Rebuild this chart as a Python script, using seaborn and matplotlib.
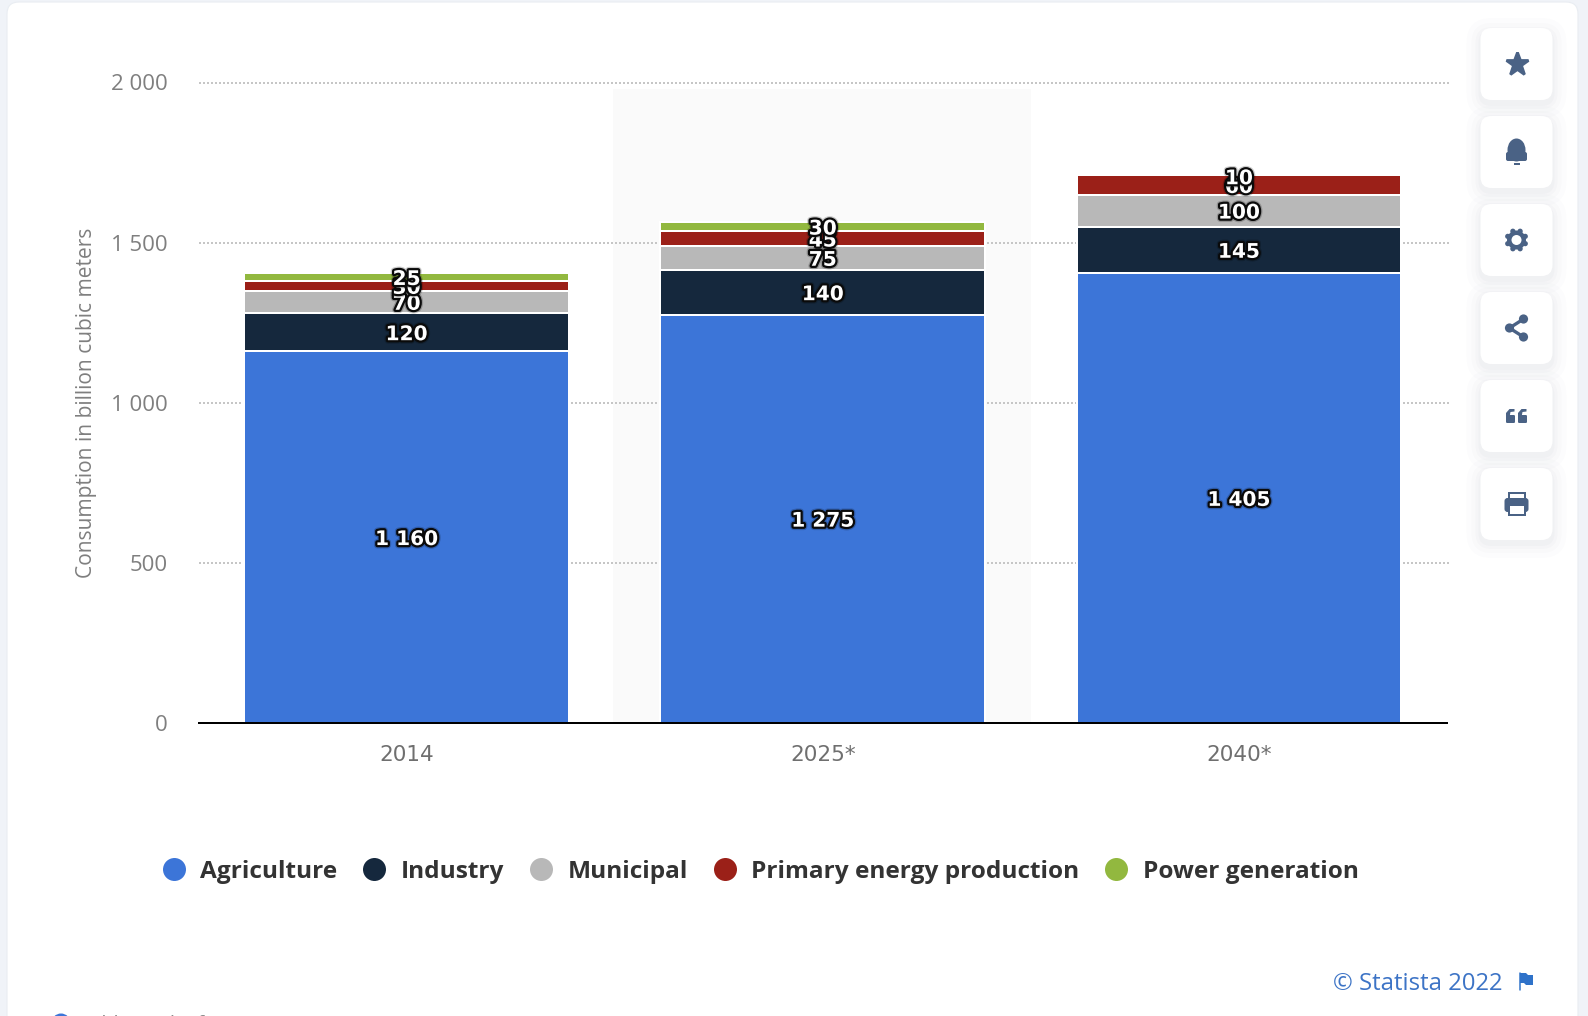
## Water consumption by sector, stacked bars in a Statista style card
import numpy as np
import matplotlib
matplotlib.use("Agg")
import matplotlib.pyplot as plt
import matplotlib.patheffects as pe
from matplotlib.lines import Line2D
from matplotlib.patches import FancyBboxPatch, Circle, Rectangle, Polygon, Ellipse
import seaborn as sns

## Data
years = ["2014", "2025*", "2040*"]
sectors = ["Agriculture", "Industry", "Municipal", "Primary energy production", "Power generation"]
agriculture = [1160, 1275, 1405]
industry = [120, 140, 145]
municipal = [70, 75, 100]
primary_energy = [30, 45, 60]
power_generation = [25, 30, 10]
sector_colors = ["#3c75d8", "#15283d", "#b8b8b8", "#9b2018", "#92b83f"]
y_ticks = [0, 500, 1000, 1500, 2000]
y_tick_labels = ["0", "500", "1 000", "1 500", "2 000"]

W, H = 1588, 1016
PX = 0.72  ## points per pixel at dpi 100
ICON = "#4a6285"

sns.set_theme(style="white")
plt.rcParams["font.family"] = ["Open Sans", "DejaVu Sans"]

fig = plt.figure(figsize=(W / 100, H / 100), dpi=100, facecolor="#f0f3f8")

## Overlay in pixel coordinates for the page furniture
ui = fig.add_axes([0, 0, 1, 1], zorder=0)
ui.set_xlim(0, W)
ui.set_ylim(H, 0)
ui.axis("off")
ui.add_patch(FancyBboxPatch((7, 2), 1571, 1100, boxstyle="round,pad=0,rounding_size=12",
                            fc="white", ec="#e9edf2", lw=0.8))

## Main axes
x0, x1, y_top, y_bot = 198.5, 1447, 82.5, 722.7
ax = fig.add_axes([x0 / W, 1 - y_bot / H, (x1 - x0) / W, (y_bot - y_top) / H], zorder=1)
ax.patch.set_alpha(0)

series = [agriculture, industry, municipal, primary_energy, power_generation]
bottom = np.zeros(len(years))
for vals, color in zip(series, sector_colors):
    sns.barplot(x=years, y=vals, bottom=bottom, color=color, saturation=1, width=0.78,
                edgecolor="white", linewidth=2 * PX, ax=ax, zorder=3)
    ## a very thin segment disappears behind its own white border
    for patch, v in zip(ax.patches[-len(years):], vals):
        if v <= 10:
            patch.set_visible(False)
    bottom = bottom + np.array(vals)

ax.set_xlim(-0.5, 2.5)
ax.set_ylim(0, 2000)
ax.axvspan(0.495, 1.5, ymax=0.99, color="#fafafa", lw=0, zorder=0)

ax.set_yticks(y_ticks)
ax.set_yticklabels(y_tick_labels)
for t in y_ticks[1:]:
    ax.axhline(t, xmax=1.002, color="#c6c6c6", lw=2 * PX, ls=(0, (1, 1)), zorder=1, clip_on=False)

for s in ["top", "right", "left"]:
    ax.spines[s].set_visible(False)
ax.spines["bottom"].set_color("black")
ax.spines["bottom"].set_linewidth(2 * PX)
ax.spines["bottom"].set_zorder(5)
ax.tick_params(axis="y", length=0, pad=31 * PX, labelsize=16, labelcolor="#7f7f7f")
ax.tick_params(axis="x", length=0, pad=22 * PX, labelsize=15.5, labelcolor="#6f6f6f")
for lab in ax.get_xticklabels():
    lab.set_fontfamily("DejaVu Sans")
ax.set_xlabel("")
ax.set_ylabel("Consumption in billion cubic meters", fontsize=15.1, color="#7f7f7f")
ax.yaxis.set_label_coords((97 - x0) / (x1 - x0), 0.5)

## Value labels, lower segments first so the upper ones sit on top
bottom = np.zeros(len(years))
for vals in series:
    for i, v in enumerate(vals):
        txt = f"{v:,}".replace(",", " ")
        dy = -5 if v <= 10 else -2.5
        ax.annotate(txt, (i, bottom[i] + v / 2), xytext=(0, dy * PX), textcoords="offset points",
                    ha="center", va="center", color="white", fontsize=14.5, fontweight="bold",
                    fontfamily="DejaVu Sans", zorder=6,
                    path_effects=[pe.withStroke(linewidth=5, foreground="#000000", alpha=0.2),
                                  pe.withStroke(linewidth=3.2, foreground="#0a0a0a")])
    bottom = bottom + np.array(vals)

## Legend
handles = [Line2D([], [], ls="", marker="o", ms=23 * PX, mfc=c, mec="none") for c in sector_colors]
leg = fig.legend(handles, sectors, ncol=5, frameon=False, loc="center left",
                 bbox_to_anchor=(162 / W, 1 - 872 / H), fontsize=17.6,
                 handlelength=0.97, handletextpad=0.6, columnspacing=1.02, borderpad=0, borderaxespad=0)
for t in leg.get_texts():
    t.set_color("#333333")
    t.set_fontweight("bold")

## Source line and the clipped link at the bottom
ui.text(1333, 984, "© Statista 2022", color="#3d74c6", fontsize=17.2, ha="left", va="center")
ui.plot([1520, 1520], [973, 990], color="#2f72c9", lw=1.5 * PX)
ui.add_patch(Polygon([(1520, 973), (1526, 973), (1528, 975), (1533, 975), (1533, 985), (1526, 985),
                      (1524, 983), (1520, 983)], fc="#2f72c9", ec="none"))
ui.add_patch(Circle((61, 1023), 9.5, fc="#3c75d8", ec="none"))
ui.text(82, 1024, "Additional Information", color="#8a8a8a", fontsize=14, va="center")

## Side buttons
cx = 1516.5
cys = [64, 152, 240, 328, 416, 504]
for cy in cys:
    for grow, alpha in [(14, 0.010), (9, 0.014), (5, 0.018), (2, 0.022)]:
        ui.add_patch(FancyBboxPatch((cx - 36 - grow, cy - 35 - grow + 3), 72 + 2 * grow, 72 + 2 * grow,
                                    boxstyle=f"round,pad=0,rounding_size={11 + grow}",
                                    fc="#40506a", ec="none", alpha=alpha))
    ui.add_patch(FancyBboxPatch((cx - 36, cy - 36), 72, 72, boxstyle="round,pad=0,rounding_size=11",
                                fc="white", ec="none"))

## Star
ui.plot([cx], [cys[0]], marker="*", ms=24 * PX, mfc=ICON, mec=ICON, mew=2)

## Bell
cy = cys[1]
ui.add_patch(Ellipse((cx, cy - 2), 18, 23, fc=ICON, ec="none"))
ui.add_patch(FancyBboxPatch((cx - 10.5, cy), 21, 9, boxstyle="round,pad=0,rounding_size=2", fc=ICON, ec="none"))
ui.add_patch(Rectangle((cx - 3, cy + 11), 6, 1.8, fc=ICON, ec="none"))

## Gear
cy = cys[2]
ui.add_patch(Circle((cx, cy), 9.5, fc=ICON, ec="none"))
for a in np.arange(8) * np.pi / 4 + np.pi / 8:
    ui.add_patch(Circle((cx + 9.5 * np.cos(a), cy + 9.5 * np.sin(a)), 2.6, fc=ICON, ec="none"))
ui.add_patch(Circle((cx, cy), 5, fc="white", ec="none"))

## Share
cy = cys[3]
nodes = [(cx + 7, cy - 9), (cx - 7, cy), (cx + 7, cy + 9)]
ui.plot([nodes[0][0], nodes[1][0], nodes[2][0]], [nodes[0][1], nodes[1][1], nodes[2][1]], color=ICON, lw=2.4)
for n in nodes:
    ui.add_patch(Circle(n, 4.6, fc=ICON, ec="none"))

## Quote
cy = cys[4]
for dx in (-6, 6):
    ui.add_patch(FancyBboxPatch((cx + dx - 4.5, cy - 1), 9, 8, boxstyle="round,pad=0,rounding_size=1.2",
                                fc=ICON, ec="none"))
    ui.add_patch(Polygon([(cx + dx - 4.5, cy + 1), (cx + dx - 4.5, cy - 3), (cx + dx - 1, cy - 7),
                          (cx + dx + 4, cy - 7), (cx + dx + 4, cy - 4.5), (cx + dx, cy - 4),
                          (cx + dx - 1, cy + 1)], fc=ICON, ec="none"))

## Printer
cy = cys[5]
ui.add_patch(FancyBboxPatch((cx - 12, cy - 6), 24, 14, boxstyle="round,pad=0,rounding_size=3", fc=ICON, ec="none"))
ui.add_patch(Rectangle((cx - 8, cy - 11), 16, 6, fc="white", ec=ICON, lw=2 * PX))
ui.add_patch(Rectangle((cx - 8, cy + 1), 16, 10, fc="white", ec=ICON, lw=2 * PX))

fig.savefig("out.png", dpi=100, facecolor=fig.get_facecolor())
